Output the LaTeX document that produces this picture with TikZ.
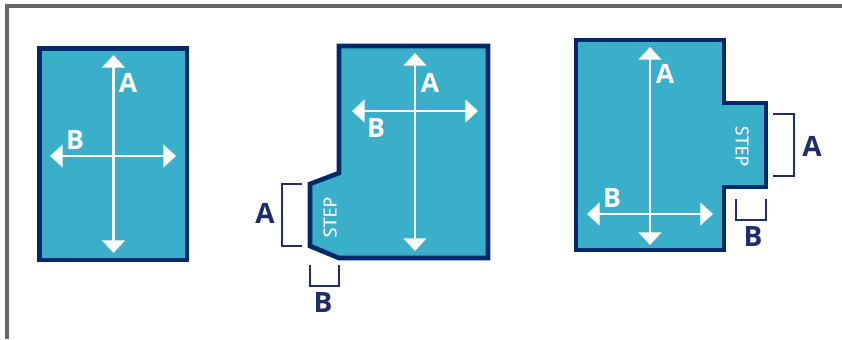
\documentclass[tikz,border=0pt]{standalone}
\usepackage{fontspec}
\setmainfont{Open Sans}
\usetikzlibrary{arrows.meta}
\definecolor{navy}{HTML}{00296B}
\definecolor{teal}{HTML}{3AAFC9}
\definecolor{ink}{HTML}{1F2E68}
\definecolor{frame}{HTML}{666666}

\begin{document}
\begin{tikzpicture}[x=0.75pt, y=-0.75pt,
	room/.style={draw=navy, fill=teal, line width=3.5pt, miter limit=10},
	dim/.style={draw=white, line width=1.8pt, {Triangle[width=17pt, length=9.5pt]}-{Triangle[width=17pt, length=9.5pt]}},
	brace/.style={draw=ink, line width=1.5pt},
	inner/.style={text=white, font=\bfseries\fontsize{20}{20}\selectfont, inner sep=0pt},
	outer/.style={text=ink, font=\bfseries\fontsize{21}{21}\selectfont, inner sep=0pt},
	steplabel/.style={text=white, font=\fontsize{13.5}{13.5}\selectfont\addfontfeatures{FakeBold=0.4}, inner sep=0pt}]
	\useasboundingbox (0,0) rectangle (842,339);
	\draw[frame, line width=3.5pt] (7,339) -- (7,6) -- (842,6);

	\draw[room] (39.5,48.5) -- (187,48.5) -- (187,260) -- (39.5,260) -- cycle;
	\coordinate (a1t) at (113.5,55);
	\coordinate (a1b) at (113.5,253);
	\coordinate (b1l) at (50,156);
	\coordinate (b1r) at (176,156);
	\draw[dim] (a1t) -- (a1b);
	\draw[dim] (b1l) -- (b1r);
	\node[inner] (A1) at (128,83) {A};
	\node[inner] (B1) at (75,140) {B};

	\draw[room] (339,46) -- (488,46) -- (488,258) -- (339,258) -- (310,246) -- (310,184) -- (339,173) -- cycle;
	\coordinate (a2t) at (415,53);
	\coordinate (a2b) at (415,251);
	\coordinate (b2l) at (352,111);
	\coordinate (b2r) at (478,111);
	\draw[dim] (a2t) -- (a2b);
	\draw[dim] (b2l) -- (b2r);
	\node[inner] (A2) at (430,83) {A};
	\node[inner] (B2) at (376,128) {B};
	\node[steplabel, rotate=90] (S2) at (330,217) {STEP};
	\draw[brace] (302,184) -- (282,184) -- (282,246) -- (302,246);
	\draw[brace] (310,265) -- (310,285.5) -- (339,285.5) -- (339,265);
	\node[outer] (A2o) at (265,213) {A};
	\node[outer] (B2o) at (323,303) {B};

	\draw[room] (576,40) -- (724,40) -- (724,103) -- (766,103) -- (766,187) -- (724,187) -- (724,250) -- (576,250) -- cycle;
	\coordinate (a3t) at (650,47);
	\coordinate (a3b) at (650,245);
	\coordinate (b3l) at (587,214);
	\coordinate (b3r) at (713,214);
	\draw[dim] (a3t) -- (a3b);
	\draw[dim] (b3l) -- (b3r);
	\node[inner] (A3) at (665,74) {A};
	\node[inner] (B3) at (612,198) {B};
	\node[steplabel, rotate=-90] (S3) at (742,146) {STEP};
	\draw[brace] (773,114) -- (794,114) -- (794,176) -- (773,176);
	\draw[brace] (736,199) -- (736,220) -- (766,220) -- (766,199);
	\node[outer] (A3o) at (812,146) {A};
	\node[outer] (B3o) at (753,237) {B};
\end{tikzpicture}
\end{document}
